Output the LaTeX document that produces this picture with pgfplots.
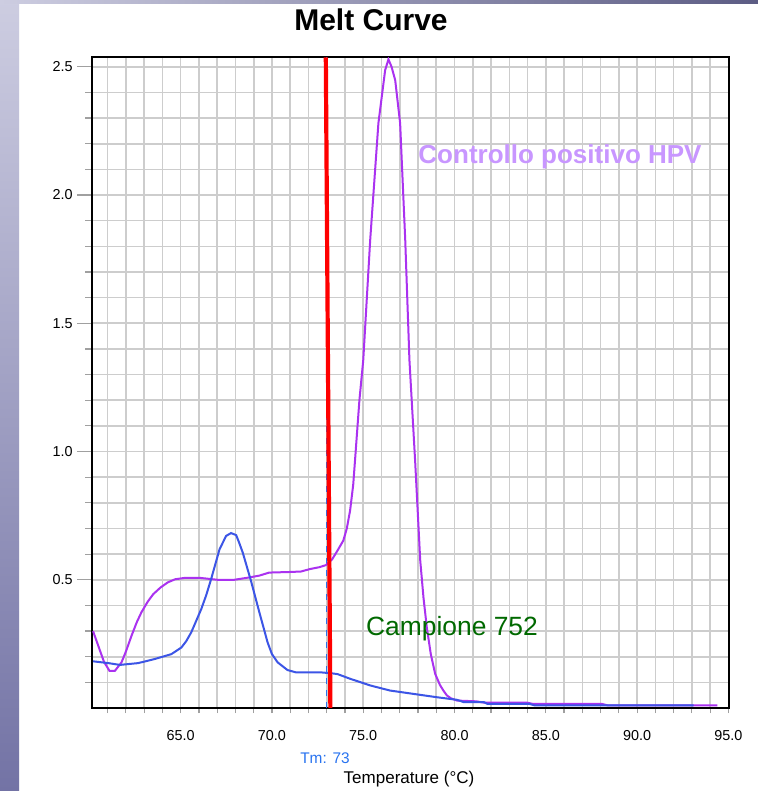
\documentclass[border=0pt]{standalone}
\usepackage{pgfplots}
\pgfplotsset{compat=1.18}
\usepackage{fontspec}
\setmainfont{Liberation Sans}
\definecolor{purp}{RGB}{170,50,240}
\definecolor{purptext}{RGB}{200,150,255}
\definecolor{bluec}{RGB}{60,85,230}
\definecolor{tmblue}{RGB}{40,115,240}
\definecolor{greent}{RGB}{0,105,0}
\definecolor{gridc}{RGB}{205,205,205}
\definecolor{tickc}{RGB}{160,160,160}
\definecolor{bgA}{RGB}{205,205,225}
\definecolor{bgB}{RGB}{115,115,165}

\pgfplotstableread{
x y
60.2 0.30
60.5 0.24
60.8 0.18
61.1 0.145
61.4 0.145
61.76 0.178
62.0 0.22
62.31 0.282
62.6 0.335
62.85 0.373
63.2 0.415
63.5 0.444
63.9 0.47
64.3 0.49
64.7 0.502
65.2 0.507
66.1 0.507
67.0 0.500
67.95 0.500
68.67 0.508
69.3 0.516
69.85 0.528
70.85 0.530
71.58 0.532
72.1 0.542
72.6 0.549
72.95 0.557
73.3 0.58
73.6 0.615
73.91 0.653
74.1 0.70
74.28 0.77
74.45 0.87
74.55 0.966
74.79 1.2
75.0 1.356
75.38 1.824
75.83 2.28
76.2 2.487
76.38 2.529
76.55 2.50
76.75 2.448
77.02 2.28
77.3 1.824
77.53 1.356
77.84 0.966
78.12 0.576
78.3 0.43
78.48 0.315
78.7 0.21
78.94 0.133
79.2 0.09
79.39 0.068
79.58 0.049
79.8 0.038
80.13 0.029
81.2 0.026
81.59 0.021
83.96 0.021
84.3 0.016
88.07 0.016
88.4 0.01
94.4 0.01
}\purpdata

\pgfplotstableread{
x y
60.2 0.182
61.04 0.175
61.67 0.168
62.67 0.175
63.58 0.191
64.49 0.21
65.04 0.236
65.3 0.26
65.58 0.295
66.13 0.386
66.4 0.44
66.67 0.503
67.13 0.619
67.49 0.671
67.76 0.682
68.04 0.674
68.2 0.645
68.4 0.606
68.85 0.496
69.31 0.373
69.76 0.256
70.0 0.21
70.31 0.178
70.85 0.148
71.31 0.139
72.67 0.139
73.3 0.135
73.6 0.132
74.28 0.114
75.38 0.088
76.47 0.068
77.75 0.055
79.03 0.042
80.13 0.032
80.5 0.023
81.6 0.023
81.8 0.016
84.1 0.016
84.4 0.01
93.1 0.01
}\bluedata

\begin{document}
\begin{tikzpicture}[x=1pt,y=1pt]
\fill[white] (0,0) rectangle (379,395.5);
\shade[top color=bgA, bottom color=bgB] (0,0) rectangle (9.5,395.5);
\shade[left color=bgA, right color=bgB!80!black] (0,393.5) rectangle (379,395.5);

% y ticks (longer) and labels
\begin{axis}[
  scale only axis, width=318.5pt, height=325.35pt,
  at={(46.15pt,41.5pt)}, anchor=south west,
  xmin=60.16, xmax=95.05, ymin=0, ymax=2.537,
  axis line style={draw=none},
  xtick=\empty,
  ytick pos=left,
  ytick={0.5,1,1.5,2,2.5},
  minor ytick={0.1,0.2,0.3,0.4,0.6,0.7,0.8,0.9,1.1,1.2,1.3,1.4,1.6,1.7,1.8,1.9,2.1,2.2,2.3,2.4},
  tick align=outside,
  major tick length=7.5pt, minor tick length=3.5pt,
  ytick style={draw=tickc, line width=0.6pt},
  minor y tick style={draw=tickc, line width=0.6pt},
  yticklabel style={font=\fontsize{7.2}{8}\selectfont, xshift=1.2pt},
  /pgf/number format/assume math mode=true,
  /pgf/number format/.cd, fixed, fixed zerofill, precision=1,
]
\end{axis}

\begin{axis}[
  scale only axis, width=318.5pt, height=325.35pt,
  at={(46.15pt,41.5pt)}, anchor=south west,
  xmin=60.16, xmax=95.05, ymin=0, ymax=2.537,
  xtick pos=bottom, ytick pos=left,
  xtick={65,70,75,80,85,90,95},
  minor xtick={61,62,63,64,66,67,68,69,71,72,73,74,76,77,78,79,81,82,83,84,86,87,88,89,91,92,93,94},
  ytick={0.5,1,1.5,2,2.5},
  minor ytick={0.1,0.2,0.3,0.4,0.6,0.7,0.8,0.9,1.1,1.2,1.3,1.4,1.6,1.7,1.8,1.9,2.1,2.2,2.3,2.4},
  yticklabels={},
  grid=both,
  major grid style={draw=gridc, line width=0.8pt},
  minor grid style={draw=gridc, line width=0.8pt},
  tick align=outside,
  major tick length=2.5pt, minor tick length=2.5pt,
  xtick style={draw=tickc, line width=0.6pt},
  minor x tick style={draw=tickc, line width=0.6pt},
  ytick style={draw=tickc, line width=0.6pt},
  minor y tick style={draw=tickc, line width=0.6pt},
  axis line style={draw=black, line width=1pt},
  xticklabel style={font=\fontsize{7.2}{8}\selectfont, yshift=-5pt},
  /pgf/number format/assume math mode=true,
  xticklabel={\pgfmathprintnumber[fixed,fixed zerofill,precision=1]{\tick}},
]
\addplot[tmblue, dashed, line width=0.5pt, forget plot] coordinates {(73,0) (73,2.537)};
\addplot[purp, line width=1pt, no marks] table[x=x,y=y] {\purpdata};
\addplot[bluec, line width=1pt, no marks] table[x=x,y=y] {\bluedata};
\addplot[red, line width=2.1pt, no marks] coordinates {(72.95,2.537) (73.2,0)};
\end{axis}

\node[anchor=base, inner sep=0, font=\fontsize{15}{18}\selectfont\bfseries] at (185.5,380) {Melt Curve};
\node[anchor=base, inner sep=0, text=purptext, font=\fontsize{13}{15}\selectfont\bfseries] at (280,313.85) {Controllo positivo HPV};
\node[anchor=base, inner sep=0, text=greent, font=\fontsize{13.2}{15}\selectfont] at (226,77.5) {Campione 752};
\node[anchor=base, inner sep=0, text=tmblue, font=\fontsize{7.7}{9}\selectfont] at (162.5,13.5) {Tm: 73};
\node[anchor=base, inner sep=0, font=\fontsize{8.5}{10}\selectfont] at (204.5,4) {Temperature (°C)};

\pgfresetboundingbox
\useasboundingbox (0,0) rectangle (379,395.5);
\end{tikzpicture}
\end{document}
